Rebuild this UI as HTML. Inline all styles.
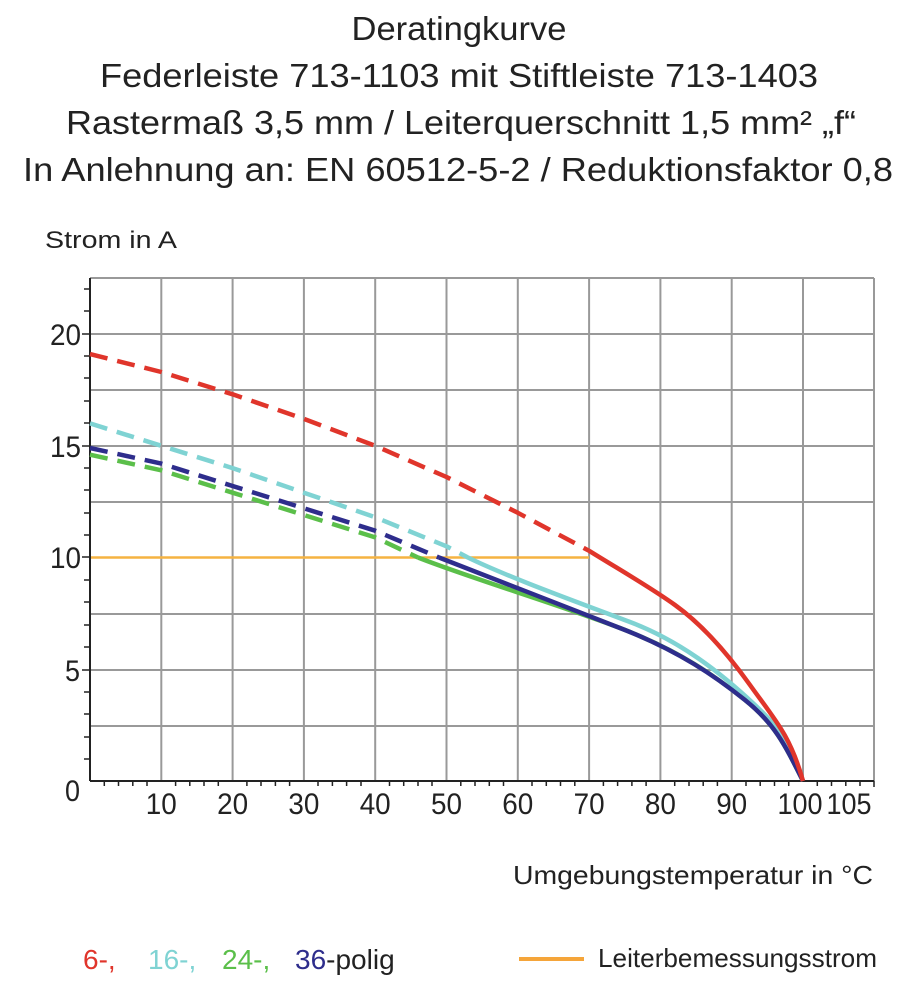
<!DOCTYPE html>
<html><head><meta charset="utf-8"><style>
html,body{margin:0;padding:0;background:#fff;}
</style></head><body>
<svg width="917" height="1000" xmlns="http://www.w3.org/2000/svg" font-family="Liberation Sans, sans-serif">
<rect width="917" height="1000" fill="#fff"/>
<g fill="#222" font-size="33" text-anchor="middle">
<text x="459" y="40" textLength="215" lengthAdjust="spacingAndGlyphs">Deratingkurve</text>
<text x="459" y="87" textLength="718" lengthAdjust="spacingAndGlyphs">Federleiste 713-1103 mit Stiftleiste 713-1403</text>
<text x="461" y="134" textLength="790" lengthAdjust="spacingAndGlyphs">Rastermaß 3,5 mm / Leiterquerschnitt 1,5 mm² „f“</text>
<text x="458" y="181" textLength="870" lengthAdjust="spacingAndGlyphs">In Anlehnung an: EN 60512-5-2 / Reduktionsfaktor 0,8</text>
</g>
<text x="45" y="248" font-size="24" fill="#222" textLength="132" lengthAdjust="spacingAndGlyphs">Strom in A</text>
<g stroke="#999" stroke-width="2" fill="none">
<path d="M161.3 278V781M232.6 278V781M303.9 278V781M375.2 278V781M446.5 278V781M517.8 278V781M589.1 278V781M660.4 278V781M731.7 278V781M803 278V781M874 278V781"/>
<path d="M90 278H874M90 334H874M90 390H874M90 446H874M90 502H874M90 614H874M90 670H874M90 726H874"/>
</g>
<line x1="90" y1="557.5" x2="589" y2="557.5" stroke="#f5b342" stroke-width="2.5"/>
<g stroke="#222" stroke-width="2">
<line x1="90" y1="278" x2="90" y2="781"/>
<line x1="90" y1="781" x2="874" y2="781"/>
</g>
<g stroke="#222" stroke-width="1.5">
<path d="M84 289H90M84 311H90M84 356H90M84 378H90M84 401H90M84 423H90M84 468H90M84 490H90M84 513H90M84 535H90M84 580H90M84 602H90M84 625H90M84 647H90M84 692H90M84 714H90M84 737H90M84 759H90M82 334H90M82 446H90M82 557H90M82 670H90"/>
<path d="M104.3 781v5M118.5 781v5M132.8 781v5M147 781v5M175.6 781v5M189.8 781v5M204 781v5M218.3 781v5M246.9 781v5M261 781v5M275.4 781v5M289.6 781v5M318 781v5M332.4 781v5M346.6 781v5M361 781v5M389.5 781v5M403.7 781v5M418 781v5M432 781v5M460.8 781v5M475 781v5M489.3 781v5M503.5 781v5M532 781v5M546.3 781v5M560.5 781v5M574.8 781v5M603.4 781v5M617.6 781v5M631.9 781v5M646.1 781v5M674.7 781v5M689 781v5M703.2 781v5M717.4 781v5M746 781v5M760.2 781v5M774.5 781v5M788.7 781v5M817.3 781v5M831.5 781v5M845.8 781v5M860 781v5M874 781v6"/>
</g>
<g fill="none" stroke-width="4.5" stroke-linejoin="round">
<polyline stroke="#5bbf4a" stroke-dasharray="18 10" points="90,454.7 161.3,470.3 232.6,492.7 303.9,515 375.2,537.4 418,557.5"/>
<path stroke="#5bbf4a" d="M418,557.5 C470,578 560,605 620,628 S715,676 745,700 S785,745 803,781"/>
<polyline stroke="#7fd3d3" stroke-dasharray="18 10" points="90,423.4 161.3,445.8 232.6,468.1 303.9,492.7 375.2,517.3 446.5,546.3 467.9,557.5"/>
<path stroke="#7fd3d3" d="M467.9,557.5 C510,578 580,603 630,622 S720,672 755,705 S790,750 803,781"/>
<polyline stroke="#2e2d8c" stroke-dasharray="18 10" points="90,448 161.3,463.6 232.6,486 303.9,508.3 375.2,530.7 439,557.5"/>
<path stroke="#2e2d8c" d="M439,557.5 C490,578 570,608 625,630 S715,676 745,700 S785,745 803,781"/>
<polyline stroke="#e0352b" stroke-dasharray="18 10" points="90,354.1 161.3,372 232.6,394.3 303.9,418.9 375.2,445.8 446.5,477 517.8,512.8 589.1,550.8"/>
<path stroke="#e0352b" d="M589.1,550.8 C620,570 650,587 675,605 S725,650 750,685 S790,735 803,781"/>
</g>
<g font-size="30" fill="#222" text-anchor="end" lengthAdjust="spacingAndGlyphs">
<text x="81" y="345" textLength="31" lengthAdjust="spacingAndGlyphs">20</text>
<text x="81" y="457" textLength="31" lengthAdjust="spacingAndGlyphs">15</text>
<text x="81" y="568" textLength="31" lengthAdjust="spacingAndGlyphs">10</text>
<text x="80" y="681" textLength="15" lengthAdjust="spacingAndGlyphs">5</text>
<text x="80" y="801" textLength="15" lengthAdjust="spacingAndGlyphs">0</text>
</g>
<g font-size="30" fill="#222" text-anchor="middle">
<text x="161.3" y="814" textLength="31" lengthAdjust="spacingAndGlyphs">10</text>
<text x="232.6" y="814" textLength="31" lengthAdjust="spacingAndGlyphs">20</text>
<text x="303.9" y="814" textLength="31" lengthAdjust="spacingAndGlyphs">30</text>
<text x="375.2" y="814" textLength="31" lengthAdjust="spacingAndGlyphs">40</text>
<text x="446.5" y="814" textLength="31" lengthAdjust="spacingAndGlyphs">50</text>
<text x="517.8" y="814" textLength="31" lengthAdjust="spacingAndGlyphs">60</text>
<text x="589.1" y="814" textLength="31" lengthAdjust="spacingAndGlyphs">70</text>
<text x="660.4" y="814" textLength="31" lengthAdjust="spacingAndGlyphs">80</text>
<text x="731.7" y="814" textLength="31" lengthAdjust="spacingAndGlyphs">90</text>
<text x="800" y="814" textLength="45" lengthAdjust="spacingAndGlyphs">100</text>
<text x="849" y="814" textLength="45" lengthAdjust="spacingAndGlyphs">105</text>
</g>
<text x="873" y="884" font-size="26" fill="#222" text-anchor="end" textLength="360" lengthAdjust="spacingAndGlyphs">Umgebungstemperatur in °C</text>
<g font-size="28">
<text x="83" y="969" fill="#e0352b">6-,</text>
<text x="148" y="969" fill="#7fd3d3">16-,</text>
<text x="222" y="969" fill="#5bbf4a">24-,</text>
<text x="295" y="969" fill="#2e2d8c">36<tspan fill="#222">-polig</tspan></text>
</g>
<line x1="519" y1="959" x2="584" y2="959" stroke="#f5a53a" stroke-width="4"/>
<text x="598" y="967" font-size="26" fill="#222" textLength="279" lengthAdjust="spacingAndGlyphs">Leiterbemessungsstrom</text>
</svg>
</body></html>
